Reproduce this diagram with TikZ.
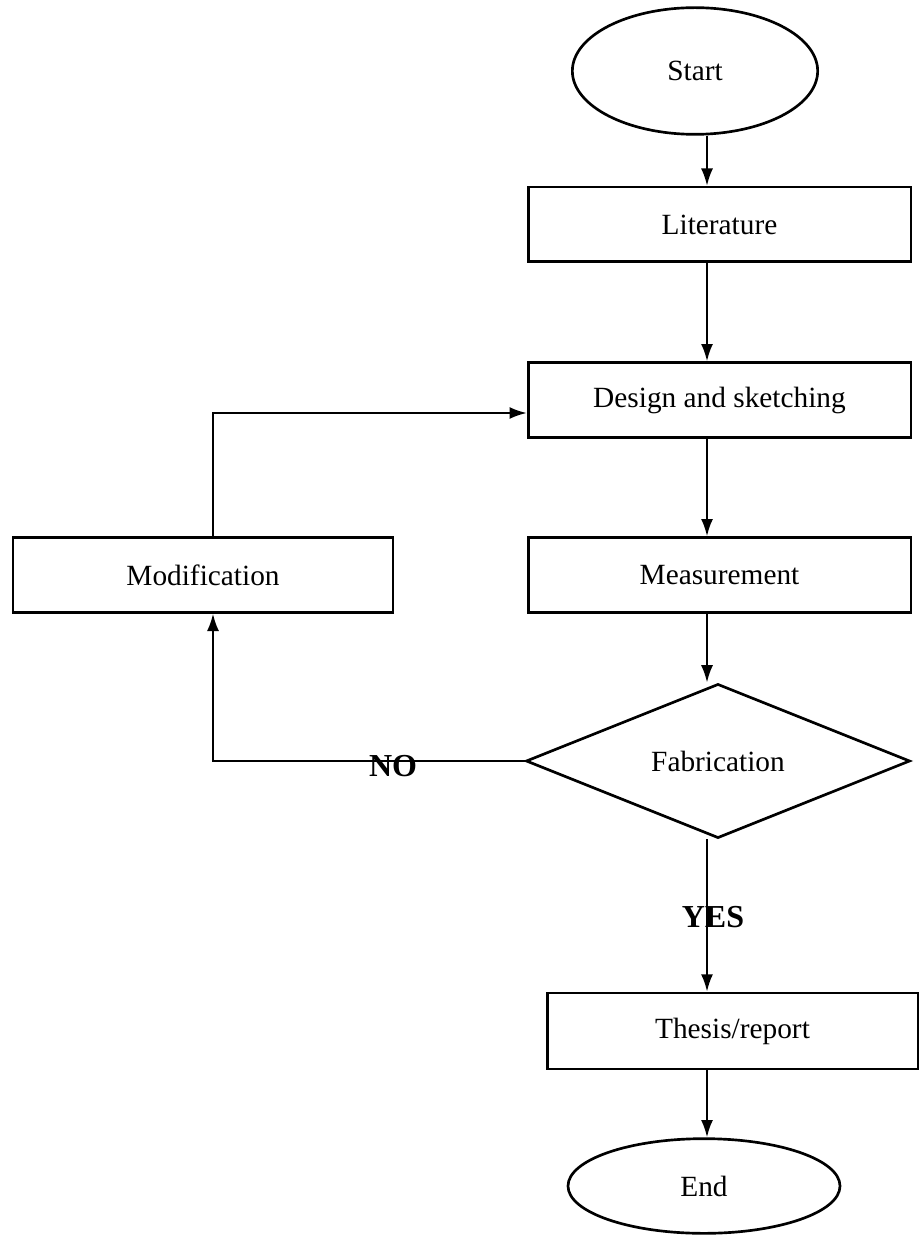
\documentclass[tikz,border=0pt]{standalone}
\usepackage{fontspec}
\setmainfont{Liberation Serif}
\usetikzlibrary{shapes.geometric,arrows.meta}

\begin{document}
\begin{tikzpicture}[x=0.75pt,y=0.75pt,yscale=-1,xscale=1,
  box/.style={draw,line width=2pt,rectangle,inner sep=0pt,minimum width=287pt,minimum height=56pt,font=\fontsize{22}{26}\selectfont},
  oval/.style={draw,line width=2pt,ellipse,inner sep=0pt,font=\fontsize{22}{26}\selectfont},
  decision/.style={draw,line width=2pt,diamond,inner sep=0pt,minimum width=288pt,minimum height=74pt,font=\fontsize{22}{26}\selectfont},
  arrow/.style={line width=1.6pt,-{Latex[length=13pt,width=9pt]}},
  answer/.style={inner sep=0pt,font=\fontsize{24}{28}\selectfont\bfseries}]
\useasboundingbox (0,0) rectangle (920,1237);

% Text Node
\node[oval,minimum width=184pt,minimum height=95pt] (start) at (695,71) {Start};
% Text Node
\node[box] (lit) at (719.5,224.5) {Literature};
% Text Node
\node[box] (design) at (719.5,400) {Design and sketching};
% Text Node
\node[box] (meas) at (719.5,575) {Measurement};
% Text Node
\node[box,minimum width=285pt] (mod) at (203,575) {Modification};
% Text Node
\node[decision] (fab) at (718,761) {Fabrication};
% Text Node
\node[box,minimum width=278pt,minimum height=57pt] (thesis) at (732.5,1031) {Thesis/report};
% Text Node
\node[oval,minimum width=204pt,minimum height=71pt] (end) at (704,1186) {End};
% Text Node
\node[answer] (no) at (393,766) {NO};
% Text Node
\node[answer] (yes) at (713,917) {YES};

\coordinate (axis) at (707,0);
\coordinate (loop) at (213,413);

% Connection
\draw[arrow] (start.south -| axis) -- (lit.north -| axis);
% Connection
\draw[arrow] (lit.south -| axis) -- (design.north -| axis);
% Connection
\draw[arrow] (design.south -| axis) -- (meas.north -| axis);
% Connection
\draw[arrow] (meas.south -| axis) -- (fab.north -| axis);
% Connection
\draw[arrow] (fab.south -| axis) -- (thesis.north -| axis);
% Connection
\draw[arrow] (thesis.south -| axis) -- (end.north -| axis);
% Connection
\draw[arrow] (fab.west) -| (loop |- mod.south);
% Connection
\draw[arrow] (loop |- mod.north) -- (loop) -- (loop -| design.west);

\end{tikzpicture}
\end{document}
